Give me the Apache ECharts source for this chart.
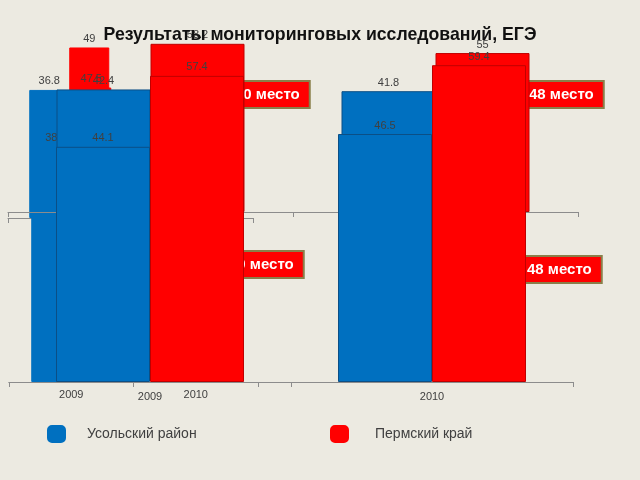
<!DOCTYPE html>
<html>
<head>
<meta charset="utf-8">
<script src="https://cdn.jsdelivr.net/npm/echarts/dist/echarts.min.js"></script>
<style>
html, body { margin: 0; padding: 0; background: #ECEAE1; }
#main { width: 640px; height: 480px; }
</style>
</head>
<body>
<div id="main"></div>
<script>
var years = ['2009', '2010'];
// большая диаграмма (ось внизу)
var bigLowUsolye = [44.1, 46.5];
var bigLowPerm = [57.4, 59.4];
// большая диаграмма (ось посередине)
var bigTopUsolye = [42.4, 41.8];
var bigTopPerm = [58.2, 55];
// маленькие диаграммы, 2010 закрыт другими столбцами
var smallTopUsolye = [36.8, null];
var smallTopPerm = [49, null];
var smallLowUsolye = [38, null];
var smallLowPerm = [47.5, null];
var places = ['20 место', '48 место', '20 место', '48 место'];

var BLUE = '#0070C0';
var RED = '#FF0000';
var TXT = '#404040';

function bar(name, data, idx, width, z, color, border){
  return {
    name: name,
    type: 'bar',
    xAxisIndex: idx,
    yAxisIndex: idx,
    data: data,
    barWidth: width,
    barGap: '0%',
    z: z,
    itemStyle: { color: color, borderColor: border, borderWidth: 1 },
    label: {
      show: true,
      position: 'top',
      distance: 3,
      color: TXT,
      fontSize: 11,
      fontFamily: 'Liberation Sans'
    }
  };
}

function xAx(idx, showLabel, margin, z){
  return {
    type: 'category',
    gridIndex: idx,
    data: years,
    z: z,
    axisLine: { lineStyle: { color: '#8c8c8c', width: 1 } },
    axisTick: { show: true, length: 5, lineStyle: { color: '#8c8c8c' } },
    axisLabel: { show: showLabel, margin: margin, color: TXT, fontSize: 11, fontFamily: 'Liberation Sans' }
  };
}

function yAx(idx){
  return { type: 'value', gridIndex: idx, min: 0, max: 60, show: false, splitLine: { show: false } };
}

function place(text, x, y){
  return {
    type: 'text',
    left: x,
    top: y,
    z: 4,
    style: {
      text: text,
      fill: '#fff',
      font: 'bold 15px "Liberation Sans"',
      backgroundColor: RED,
      borderColor: '#8A7F4A',
      borderWidth: 2,
      padding: [5, 9, 5, 6]
    }
  };
}

var myChart = echarts.init(document.getElementById('main'));
var option = {
  backgroundColor: '#ECEAE1',
  animation: false,
  title: {
    text: 'Результаты мониторинговых исследований, ЕГЭ',
    left: 'center',
    top: 21,
    z: 10,
    textStyle: { fontSize: 17.7, fontWeight: 'bold', color: '#111', fontFamily: 'Liberation Sans' }
  },
  legend: [
    {
      data: ['Усольский район'],
      left: 47, top: 425, padding: 0,
      icon: 'roundRect', itemWidth: 17, itemHeight: 16,
      textStyle: { fontSize: 14, color: TXT, fontFamily: 'Liberation Sans', padding: [0, 0, 0, 17] }
    },
    {
      data: ['Пермский край'],
      left: 330, top: 425, padding: 0,
      icon: 'roundRect', itemWidth: 17, itemHeight: 16,
      textStyle: { fontSize: 14, color: TXT, fontFamily: 'Liberation Sans', padding: [0, 0, 0, 22] }
    }
  ],
  grid: [
    { left: 9, right: 67, top: 62, bottom: 98 },    // большая нижняя
    { left: 8, right: 62, top: 38.6, bottom: 268 }, // большая верхняя
    { left: 8, right: 387, top: 9.2, bottom: 262 }, // маленькая верхняя
    { left: 9, right: 382, top: 10, bottom: 98 }    // маленькая нижняя
  ],
  xAxis: [xAx(0, true, 9, 6), xAx(1, false, 8, 4), xAx(2, false, 8, 1), xAx(3, true, 7, 3)],
  yAxis: [yAx(0), yAx(1), yAx(2), yAx(3)],
  series: [
    bar('Усольский район', smallTopUsolye, 2, 40, 2, BLUE, BLUE),
    bar('Пермский край', smallTopPerm, 2, 40, 2, RED, RED),
    bar('Усольский район', smallLowUsolye, 3, 40, 3, BLUE, BLUE),
    bar('Пермский край', smallLowPerm, 3, 40, 3, RED, RED),
    bar('Усольский район', bigTopUsolye, 1, 94, 5, BLUE, '#0B4F86'),
    bar('Пермский край', bigTopPerm, 1, 94, 5, RED, '#C00000'),
    bar('Усольский район', bigLowUsolye, 0, 94, 6, BLUE, '#0B4F86'),
    bar('Пермский край', bigLowPerm, 0, 94, 6, RED, '#C00000')
  ],
  graphic: [
    place(places[0], 227, 80),
    place(places[1], 521, 80),
    place(places[2], 221, 250),
    place(places[3], 519, 255)
  ]
};
myChart.setOption(option);
</script>
</body>
</html>
